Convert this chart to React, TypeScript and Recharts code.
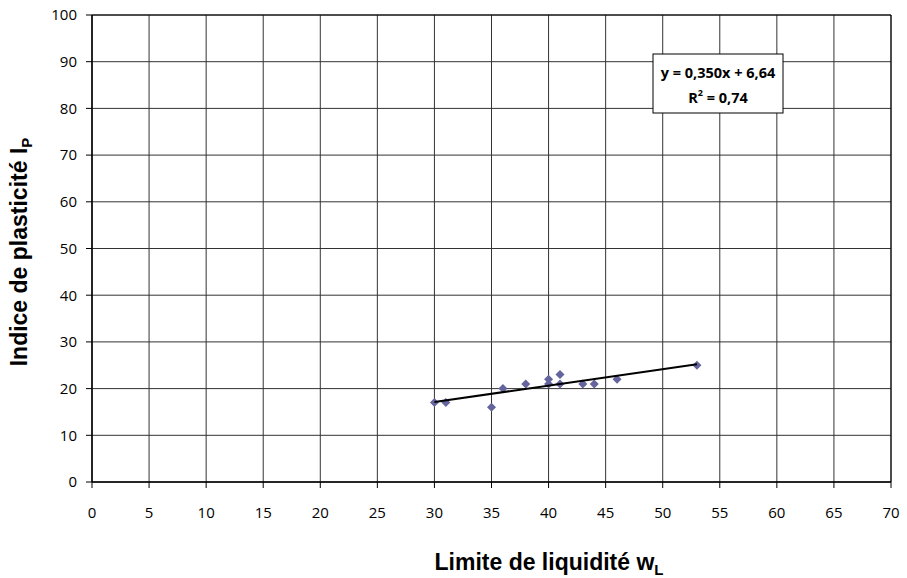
import React from 'react';
import {
  ScatterChart,
  Scatter,
  XAxis,
  YAxis,
  CartesianGrid,
  ReferenceArea,
  Label,
} from 'recharts';

// measured points (liquid limit wL, plasticity index IP)
const wL = [30, 31, 35, 36, 38, 40, 40, 41, 41, 43, 44, 46, 53];
const IP = [17, 17, 16, 20, 21, 22, 21, 23, 21, 21, 21, 22, 25];

// linear trend y = 0,350x + 6,64 drawn over the data range
const trendX = [30, 53];
const trendY = [17.14, 25.19];

const xTicks = [0, 5, 10, 15, 20, 25, 30, 35, 40, 45, 50, 55, 60, 65, 70];
const yTicks = [0, 10, 20, 30, 40, 50, 60, 70, 80, 90, 100];

const points = wL.map((x, i) => ({ x, y: IP[i] }));
const trend = trendX.map((x, i) => ({ x, y: trendY[i] }));

const tickFont = { fontFamily: 'Open Sans, sans-serif', fontSize: 15, fill: '#000' };
const titleStyle = { fontFamily: 'Liberation Sans, Arial, sans-serif', fontSize: 23, fontWeight: 700 };

const Diamond = (props: any) => {
  const { cx, cy } = props;
  if (cx == null || cy == null) return null;
  const r = 4.5;
  return (
    <polygon
      points={`${cx},${cy - r} ${cx + r},${cy} ${cx},${cy + r} ${cx - r},${cy}`}
      fill="#64649e"
    />
  );
};

const XTitle = () => (
  <text x={549} y={570} textAnchor="middle" style={titleStyle} fill="#000">
    Limite de liquidité w
    <tspan fontSize={15} dy={5}>L</tspan>
  </text>
);

const YTitle = () => (
  <text x={0} y={0} textAnchor="middle" transform="translate(27,252) rotate(-90)" style={titleStyle} fill="#000">
    Indice de plasticité I
    <tspan fontSize={15} dy={5}>P</tspan>
  </text>
);

const EquationBox = () => (
  <g>
    <rect x={653} y={54} width={130} height={59} fill="#fff" stroke="#000" strokeWidth={1} />
    <text
      x={718}
      y={78}
      textAnchor="middle"
      style={{ fontFamily: 'Open Sans, sans-serif', fontSize: 14.5, fontWeight: 700 }}
      fill="#000"
    >
      y = 0,350x + 6,64
    </text>
    <text
      x={718}
      y={103}
      textAnchor="middle"
      style={{ fontFamily: 'Open Sans, sans-serif', fontSize: 14.5, fontWeight: 700 }}
      fill="#000"
    >
      R<tspan fontSize={9} dy={-7}>2</tspan>
      <tspan dy={7}> = 0,74</tspan>
    </text>
  </g>
);

export default function App() {
  return (
    <div style={{ position: 'absolute', left: 0, top: 0, width: 907, height: 578, background: '#fff' }}>
      <ScatterChart width={907} height={578} margin={{ top: 15, right: 16, left: 32, bottom: 66 }}>
        <CartesianGrid stroke="#333" strokeWidth={1} />
        <XAxis
          type="number"
          dataKey="x"
          domain={[0, 70]}
          ticks={xTicks}
          interval={0}
          height={30}
          stroke="#000"
          tickSize={6}
          tick={tickFont}
          tickMargin={19}
        >
          <Label content={<XTitle />} />
        </XAxis>
        <YAxis
          type="number"
          dataKey="y"
          domain={[0, 100]}
          ticks={yTicks}
          interval={0}
          width={60}
          stroke="#000"
          tickSize={6}
          tick={tickFont}
          tickMargin={9}
        >
          <Label content={<YTitle />} />
        </YAxis>
        <ReferenceArea
          x1={0}
          x2={70}
          y1={0}
          y2={100}
          fill="none"
          stroke="#000"
          strokeWidth={1}
          label={<EquationBox />}
        />
        <Scatter data={points} shape={<Diamond />} isAnimationActive={false} />
        <Scatter
          data={trend}
          line={{ stroke: '#000', strokeWidth: 2 }}
          shape={() => null}
          isAnimationActive={false}
        />
      </ScatterChart>
    </div>
  );
}
